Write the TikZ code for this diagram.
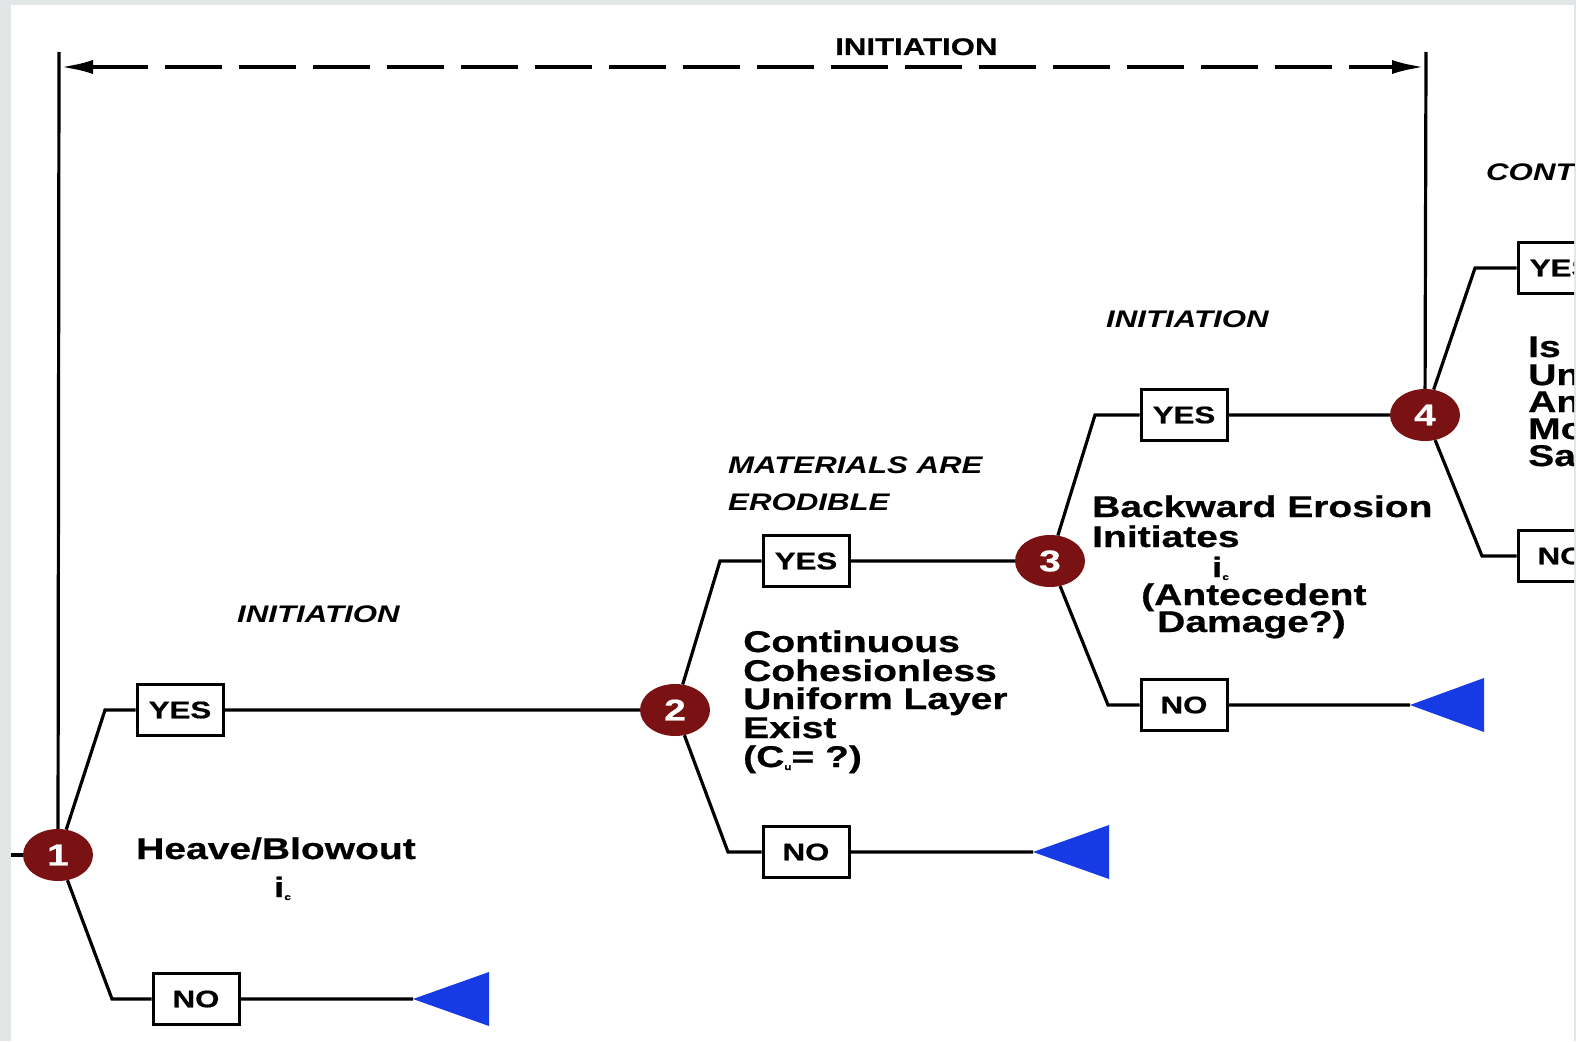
\documentclass[tikz,border=0pt]{standalone}
\usepackage{fontspec}
\setmainfont{Liberation Sans}[FakeStretch=1.3, BoldFeatures={FakeBold=0.6}]
\usetikzlibrary{arrows.meta,shapes.geometric}
\definecolor{nodered}{RGB}{122,18,20}
\definecolor{triblue}{RGB}{22,58,228}
\definecolor{outergray}{RGB}{226,230,230}
\newcommand{\tinysub}[1]{\raisebox{-3pt}{\fontsize{9}{9}\selectfont #1}}
\begin{document}
\begin{tikzpicture}[x=1pt,y=-1pt,
  event/.style={ellipse, fill=nodered, minimum width=70pt, minimum height=52pt, inner sep=0pt, text=white, font=\fontsize{30}{30}\selectfont\bfseries},
  ans/.style={draw, line width=3pt, fill=white, minimum width=86pt, minimum height=51pt, inner sep=0pt, font=\fontsize{24}{24}\selectfont\bfseries},
  lbl/.style={inner sep=0pt, anchor=base west, font=\fontsize{30}{30}\selectfont\bfseries},
  hdr/.style={inner sep=0pt, anchor=base west, font=\fontsize{24}{24}\selectfont\bfseries\itshape},
  conn/.style={line width=3.2pt},
  tri/.style={fill=triblue}
]
\useasboundingbox (0,0) rectangle (1576,1041);
\fill[outergray] (0,0) rectangle (1576,1041);
\fill[white] (11,5) rectangle (1574,1041);
\begin{scope}
\clip (11,5) rectangle (1574,1041);
% event nodes
\node[event] (n1) at (58,855) {1};
\node[event] (n2) at (675,710) {2};
\node[event] (n3) at (1050,561) {3};
\node[event] (n4) at (1425,415) {4};
% answer boxes
\node[ans] (y1) at (180,710) {YES};
\node[ans] (no1) at (196,999) {NO};
\node[ans] (y2) at (806,561) {YES};
\node[ans] (no2) at (806,852) {NO};
\node[ans] (y3) at (1184,415) {YES};
\node[ans] (no3) at (1184,705) {NO};
\node[ans] (y4) at (1561,268) {YES};
\node[ans] (no4) at (1561,556) {NO};
% elbows
\coordinate (u1) at (105,710); \coordinate (d1) at (112,999);
\coordinate (u2) at (720,561); \coordinate (d2) at (728,852);
\coordinate (u3) at (1095,415); \coordinate (d3) at (1108,705);
\coordinate (u4) at (1475,268); \coordinate (d4) at (1482,556);
% triangle tips
\coordinate (t1) at (413,999);
\coordinate (t2) at (1033,852);
\coordinate (t3) at (1410,705);
\fill[tri] (t1) -- ++(76,-27) -- ++(0,54) -- cycle;
\fill[tri] (t2) -- ++(76,-27) -- ++(0,54) -- cycle;
\fill[tri] (t3) -- ++(74,-27) -- ++(0,54) -- cycle;
% connectors
\coordinate (s0) at (11,855);
\draw[conn] (s0) -- (n1);
\draw[conn] (n1) -- (u1) -- (y1) -- (n2);
\draw[conn] (n1) -- (d1) -- (no1) -- (t1);
\draw[conn] (n2) -- (u2) -- (y2) -- (n3);
\draw[conn] (n2) -- (d2) -- (no2) -- (t2);
\draw[conn] (n3) -- (u3) -- (y3) -- (n4);
\draw[conn] (n3) -- (d3) -- (no3) -- (t3);
\draw[conn] (n4) -- (u4) -- (y4);
\draw[conn] (n4) -- (d4) -- (no4);
% span lines
\coordinate (tl) at (59,52); \coordinate (tr) at (1426,52);
\draw[conn] (n1) -- (tl);
\draw[conn] (n4) -- (tr);
\coordinate (al) at (59,67); \coordinate (ar) at (1426,67);
\draw[line width=4.5pt, dash pattern=on 57pt off 17pt,
  {Latex[length=34pt,width=14pt]}-{Latex[length=34pt,width=14pt]}] (al) -- (ar);
% headings
\node[inner sep=0pt, anchor=base west, font=\fontsize{24}{24}\selectfont\bfseries] (hTop) at (835,55) {INITIATION};
\node[hdr] (h1) at (237,622) {INITIATION};
\node[hdr] (h2a) at (728,473) {MATERIALS ARE};
\node[hdr] (h2b) at (728,510) {ERODIBLE};
\node[hdr] (h3) at (1106,327) {INITIATION};
\node[hdr] (h4) at (1486,180) {CONT};
% question texts
\node[lbl, anchor=base] (q1a) at (276,859) {Heave/Blowout};
\node[lbl, font=\fontsize{28}{28}\selectfont\bfseries] (q1b) at (274,897) {i\tinysub{c}};
\node[lbl] (q2a) at (743,652) {Continuous};
\node[lbl] (q2b) at (743,681) {Cohesionless};
\node[lbl] (q2c) at (743,709) {Uniform Layer};
\node[lbl] (q2d) at (743,738) {Exist};
\node[lbl] (q2e) at (743,767) {(C\tinysub{u}= ?)};
\node[lbl] (q3a) at (1092,517) {Backward Erosion};
\node[lbl] (q3b) at (1092,547) {Initiates};
\node[lbl, font=\fontsize{28}{28}\selectfont\bfseries] (q3c) at (1212,577) {i\tinysub{c}};
\node[lbl] (q3d) at (1141,605) {(Antecedent};
\node[lbl] (q3e) at (1157,632) {Damage?)};
\node[lbl] (q4a) at (1528,357) {Is};
\node[lbl] (q4b) at (1528,385) {Un};
\node[lbl] (q4c) at (1528,412) {An};
\node[lbl] (q4d) at (1528,439) {Mo};
\node[lbl] (q4e) at (1528,466) {Sa};
\end{scope}
\end{tikzpicture}
\end{document}
